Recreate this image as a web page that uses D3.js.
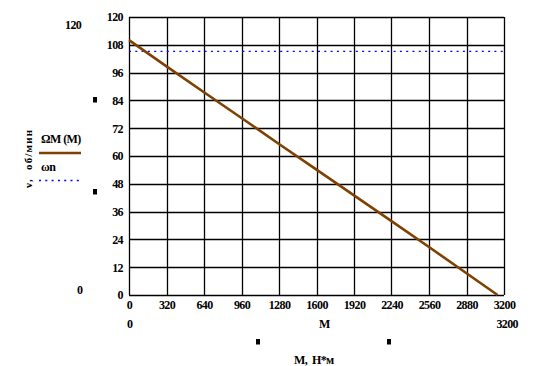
<!DOCTYPE html>
<html><head><meta charset="utf-8">
<script src="https://cdn.jsdelivr.net/npm/d3@7"></script>
<style>
html,body{margin:0;padding:0;background:#fff;}
svg text{font-family:"Liberation Serif","DejaVu Serif",serif !important;font-weight:bold;font-size:12px;letter-spacing:-0.6px;fill:#000;}
</style></head>
<body>
<svg id="c" width="543" height="366"></svg>
<script>
// Data
const momentM = [0, 320, 640, 960, 1280, 1600, 1920, 2240, 2560, 2880, 3145];
const omegaM = [110, 98.7, 87.5, 76.4, 65.2, 54.1, 43.0, 31.9, 20.7, 9.4, 0];
const omegaN = 105.2;
const xTicks = [0, 320, 640, 960, 1280, 1600, 1920, 2240, 2560, 2880, 3200];
const yTicks = [0, 12, 24, 36, 48, 60, 72, 84, 96, 108, 120];

const svg = d3.select("#c");
const x = d3.scaleLinear().domain([0, 3200]).range([129, 504]);
const y = d3.scaleLinear().domain([0, 120]).range([295, 17]);

// grid
const g = svg.append("g");
g.selectAll(".vx").data(xTicks).enter().append("line")
  .attr("x1", d => Math.round(x(d)) + 0.5).attr("x2", d => Math.round(x(d)) + 0.5)
  .attr("y1", y(0)).attr("y2", y(120))
  .attr("stroke", "#000").attr("stroke-width", 1.3);
g.selectAll(".hy").data(yTicks).enter().append("line")
  .attr("y1", d => Math.round(y(d)) + 0.5).attr("y2", d => Math.round(y(d)) + 0.5)
  .attr("x1", x(0)).attr("x2", x(3200))
  .attr("stroke", "#000").attr("stroke-width", 1.3);

// axes tick labels
const yAxis = d3.axisLeft(y).tickValues(yTicks).tickFormat(d3.format("d")).tickSize(0).tickPadding(6);
const ya = svg.append("g").attr("transform", `translate(${x(0)},0)`).call(yAxis);
ya.attr("font-family", null).attr("font-size", null);
ya.select(".domain").remove();

const xAxis = d3.axisBottom(x).tickValues(xTicks).tickFormat(d3.format("d")).tickSize(0).tickPadding(5);
const xa = svg.append("g").attr("transform", `translate(0,${y(0)})`).call(xAxis);
xa.attr("font-family", null).attr("font-size", null);
xa.select(".domain").remove();

// omega_n dotted line
svg.append("line")
  .attr("x1", x(0)).attr("x2", x(3200))
  .attr("y1", y(omegaN)).attr("y2", y(omegaN))
  .attr("stroke", "#0000ff").attr("stroke-width", 1.3).attr("stroke-dasharray", "2,4.3");

// Omega(M) line
svg.append("path").datum(momentM.map((m, i) => [m, omegaM[i]]))
  .attr("d", d3.line().x(d => x(d[0])).y(d => y(d[1])))
  .attr("fill", "none").attr("stroke", "#804000").attr("stroke-width", 2.6);

// extra labels
svg.append("text").attr("x", 65).attr("y", 29).text("120");
svg.append("text").attr("x", 77).attr("y", 294).text("0");
svg.append("text").attr("x", 127).attr("y", 328).text("0");
svg.append("text").attr("x", 319).attr("y", 328).text("M");
svg.append("text").attr("x", 518).attr("y", 328).attr("text-anchor", "end").text("3200");
svg.append("text").attr("x", 294).attr("y", 364).attr("xml:space", "preserve").text("M,  Н*м");

// small markers
[[93, 97], [93, 189], [256, 339], [387, 339]].forEach(p => {
  svg.append("rect").attr("x", p[0]).attr("y", p[1]).attr("width", 4).attr("height", 5.5).attr("fill", "#000");
});

// y title
svg.append("text").attr("transform", "translate(32,188) rotate(-90)")
  .attr("style", "font-size:11px;letter-spacing:1.2px").attr("xml:space", "preserve").text("ν,  об/мин");

// legend
svg.append("text").attr("x", 41).attr("y", 143).text("ΩМ (M)");
svg.append("line").attr("x1", 39).attr("x2", 81).attr("y1", 153).attr("y2", 153)
  .attr("stroke", "#804000").attr("stroke-width", 2.6);
svg.append("text").attr("x", 41).attr("y", 171).text("ωn");
svg.append("line").attr("x1", 39).attr("x2", 79).attr("y1", 180.5).attr("y2", 180.5)
  .attr("stroke", "#0000ff").attr("stroke-width", 1.3).attr("stroke-dasharray", "2,4.3");
</script>
</body></html>
